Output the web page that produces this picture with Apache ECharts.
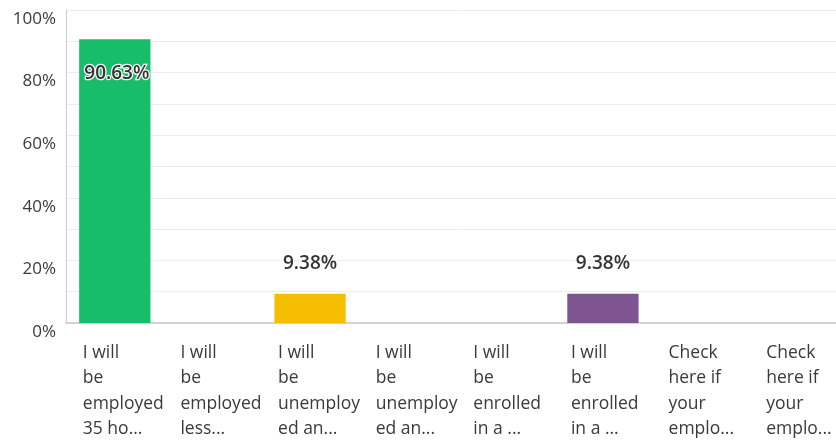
<!DOCTYPE html>
<html>
<head>
<meta charset="utf-8">
<script src="https://cdn.jsdelivr.net/npm/echarts@6/dist/echarts.min.js"></script>
<style>html,body{margin:0;padding:0;background:#fff;overflow:hidden}#c{width:847px;height:440px}</style>
</head>
<body>
<div id="c"></div>
<script>
var categories = [
  "I will\nbe\nemployed\n35 ho...",
  "I will\nbe\nemployed\nless...",
  "I will\nbe\nunemploy\ned an...",
  "I will\nbe\nunemploy\ned an...",
  "I will\nbe\nenrolled\nin a ...",
  "I will\nbe\nenrolled\nin a ...",
  "Check\nhere if\nyour\nemplo...",
  "Check\nhere if\nyour\nemplo..."
];
var values = [90.63, 0, 9.38, 0, 0, 9.38, 0, 0];
var barColors = ["#17bd69", "#17bd69", "#f6be00", "#f6be00", "#7f5591", "#7f5591", "#17bd69", "#17bd69"];
var yTicks = [0, 20, 40, 60, 80, 100];

var font = "'Open Sans', 'Noto Sans', sans-serif";
var chart = echarts.init(document.getElementById('c'), null, {renderer: 'canvas'});

var data = values.map(function (v, i) {
  var item = {value: v, itemStyle: {color: barColors[i]}};
  if (v === 0) {
    item.label = {show: false};
  } else if (v > 50) {
    item.label = {show: true, position: 'insideTop', distance: 5, offset: [2, 20]};
  } else {
    item.label = {show: true, position: 'top', distance: 21};
  }
  return item;
});

chart.setOption({
  animation: false,
  grid: {left: 66, right: 0, top: 10, bottom: 117, containLabel: false},
  xAxis: {
    type: 'category',
    data: categories,
    axisLine: {show: true, lineStyle: {color: '#c8c8c8', width: 1.5}},
    axisTick: {show: false},
    axisLabel: {
      interval: 0,
      margin: 17,
      verticalAlign: 'top',
      formatter: function (v) {
        return v.split('\n').map(function (s) { return '{a|' + s + '}'; }).join('\n');
      },
      rich: {
        a: {width: 64, align: 'left', fontFamily: font, fontSize: 17.5, lineHeight: 25.5, color: '#3a3a3a'}
      }
    }
  },
  yAxis: {
    type: 'value',
    min: 0,
    max: 100,
    interval: 20,
    axisLine: {show: true, lineStyle: {color: '#cccccc', width: 1}},
    axisTick: {show: false},
    splitLine: {show: true, lineStyle: {color: '#ececec', width: 1}},
    minorTick: {show: false, splitNumber: 2},
    minorSplitLine: {show: true, lineStyle: {color: '#ececec', width: 1}},
    axisLabel: {
      margin: 10,
      verticalAlign: 'top',
      lineHeight: 18,
      fontFamily: font,
      fontSize: 17,
      color: '#3a3a3a',
      formatter: function (v) { return yTicks.indexOf(v) >= 0 ? v + '%' : ''; }
    }
  },
  series: [{
    type: 'bar',
    data: data,
    barCategoryGap: '27%',
    label: {
      show: true,
      fontFamily: font,
      fontSize: 19,
      fontWeight: 600,
      color: '#333333',
      textBorderColor: '#ffffff',
      textBorderWidth: 2.5,
      formatter: function (p) { return p.value.toFixed(2) + '%'; }
    }
  }]
});
</script>
</body>
</html>
